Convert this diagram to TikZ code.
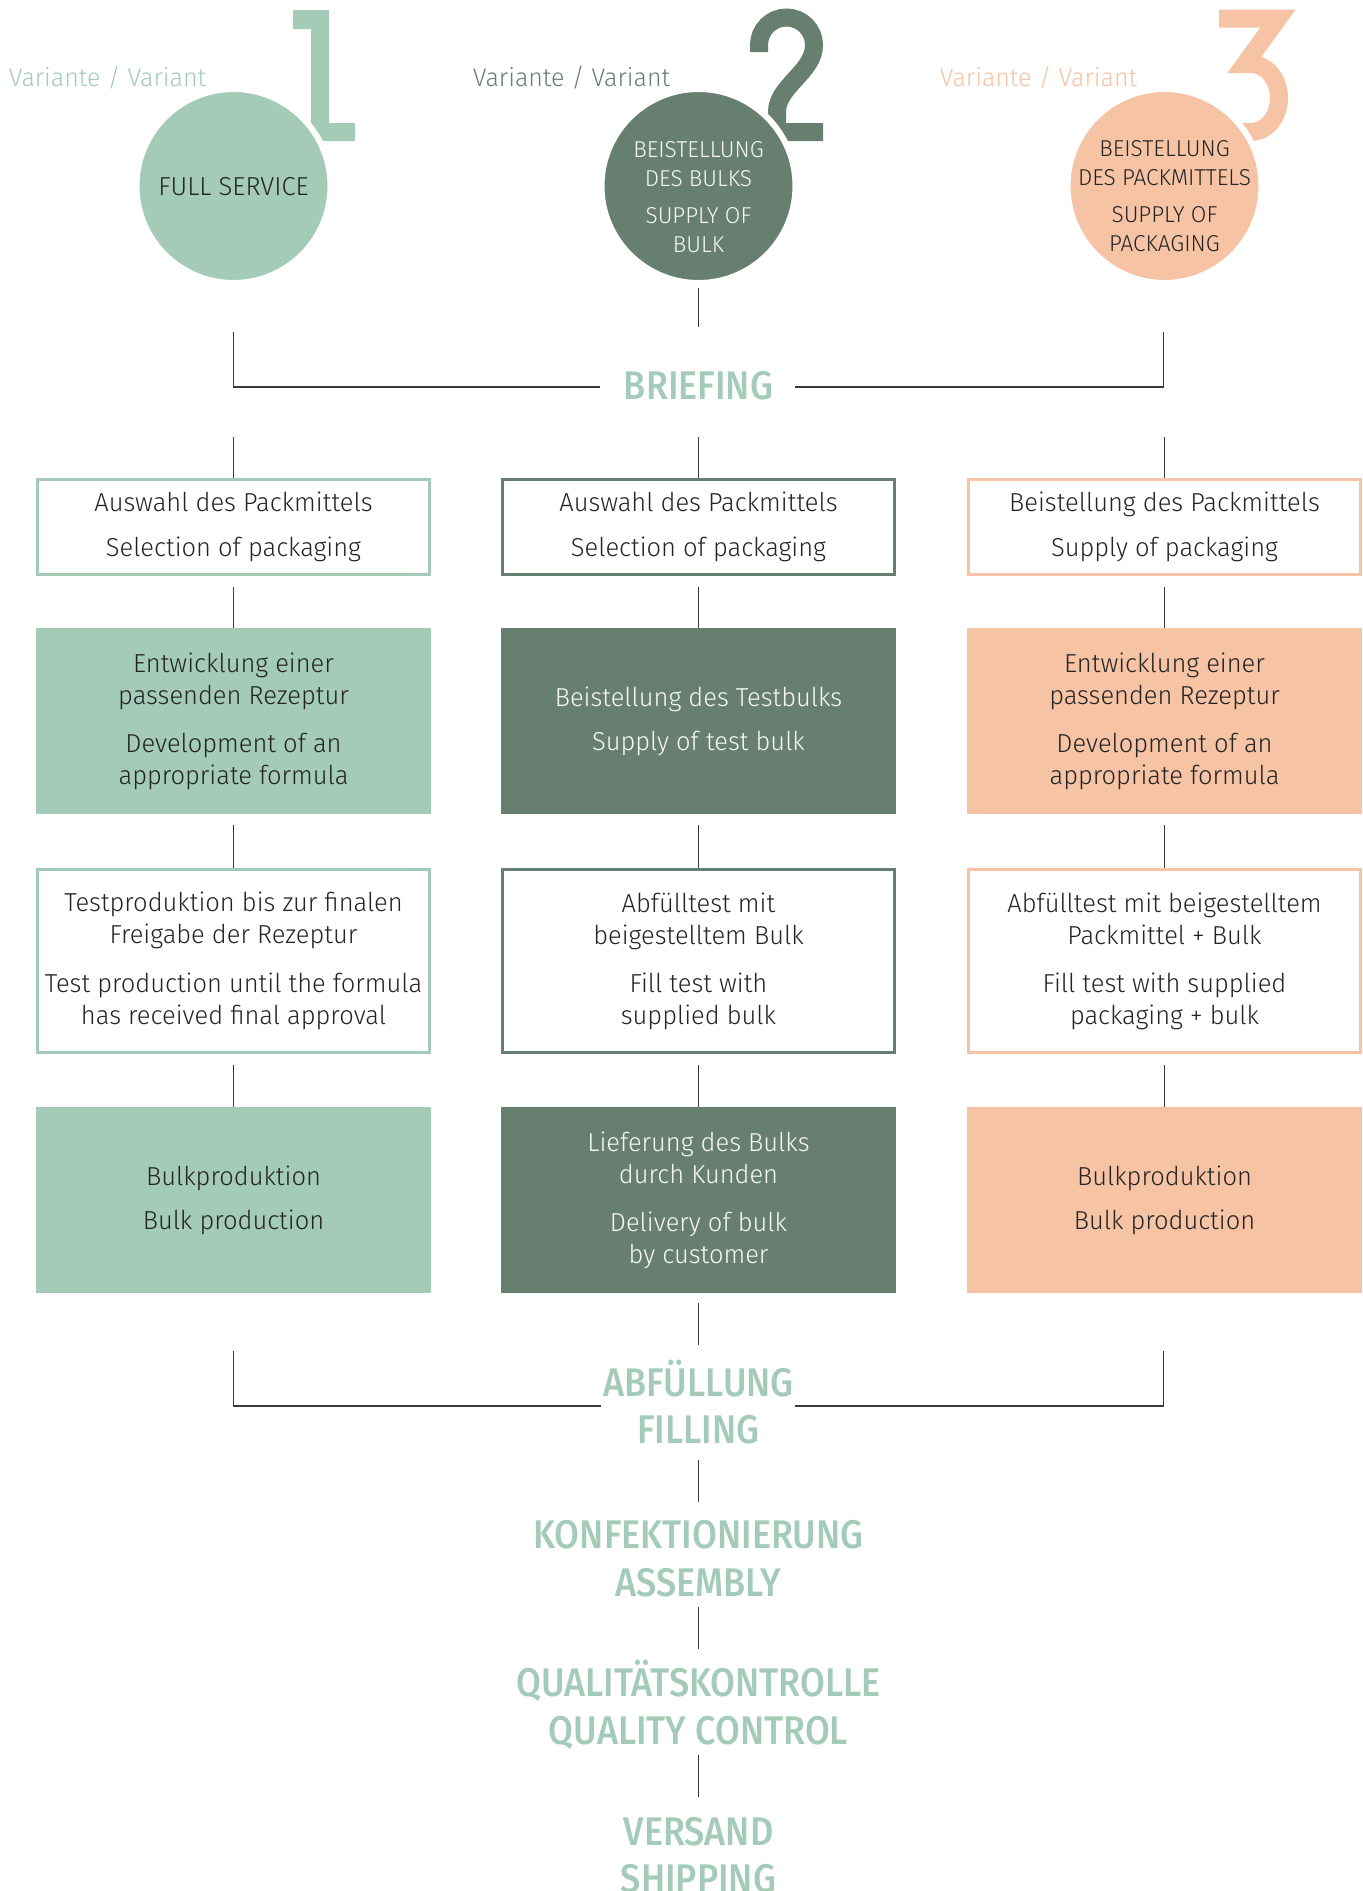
\documentclass[tikz,border=0pt]{standalone}
\usepackage{fontspec}
\setmainfont{Fira Sans Light}[FakeStretch=0.98]
\newfontfamily\fmed{Fira Sans Medium}[FakeStretch=0.9]
\definecolor{mint}{HTML}{A3CBB8}
\definecolor{sage}{HTML}{667F71}
\definecolor{peach}{HTML}{F7C3A5}
\definecolor{ink}{HTML}{242424}
\definecolor{linec}{HTML}{3A3A3A}
\definecolor{paper}{HTML}{F7F7F5}
\begin{document}
\begin{tikzpicture}[x=1pt,y=-1pt,
  conn/.style={draw=linec, line width=1.5pt},
  boxtxt/.style={align=center, font=\fontsize{26}{32}\selectfont, text=ink, inner sep=0pt, outer sep=0pt},
  obox/.style={boxtxt, draw, line width=3pt, minimum width=392pt, outer sep=1.5pt},
  fbox/.style={boxtxt, minimum width=395pt, minimum height=186pt},
  head/.style={font=\fmed\fontsize{40}{48}\selectfont, text=mint, inner sep=0pt, anchor=base},
  varlbl/.style={font=\fontsize{25.5}{32}\selectfont, inner sep=0pt, anchor=base},
  digitstroke/.style={line width=18pt, line cap=butt, line join=miter},
  circ/.style={circle, minimum size=194pt, draw=white, line width=6pt, inner sep=0pt},
  ctext/.style={align=center, font=\fontsize{23}{29}\selectfont, inner sep=0pt}
]
\useasboundingbox (0,0) rectangle (1363,1891);

% big digits (drawn as shapes)
\fill[mint] (293,10) -- (329,10) -- (329,123) -- (355,123) -- (355,141) -- (300,141)
  -- (300,123) -- (311,123) -- (311,29) -- (293,29) -- cycle;
\draw[sage, digitstroke] (759,52) -- (759,45) arc[start angle=180, end angle=360, radius=27.5]
  .. controls (814,72) and (777,86) .. (777,112) -- (777,132) -- (823,132);
\draw[peach, digitstroke] (1219,18.5) -- (1278,18.5) -- (1245,64) -- (1251,64)
  arc[start angle=270, end angle=450, x radius=28, y radius=34] -- (1205,132);

% variant labels
\node[varlbl, text=mint] (v1) at (107.5,86) {Variante / Variant};
\node[varlbl, text=sage] (v2) at (571.5,86) {Variante / Variant};
\node[varlbl, text=peach] (v3) at (1038.5,86) {Variante / Variant};

% circles
\node[circ, fill=mint] (k1) at (233.5,186) {};
\node[circ, fill=sage] (k2) at (698.5,186) {};
\node[circ, fill=peach] (k3) at (1164.5,186) {};
\node[ctext, text=ink, font=\fontsize{26}{32}\selectfont] (kt1) at (233.5,186.5) {FULL SERVICE};
\node[ctext, text=paper] (kt2) at (698.5,197) {BEISTELLUNG\\DES BULKS\\[8pt]SUPPLY OF\\BULK};
\node[ctext, text=ink] (kt3) at (1164.5,196) {BEISTELLUNG\\DES PACKMITTELS\\[8pt]SUPPLY OF\\PACKAGING};

% briefing
\node[head] (brief) at (698.5,399) {BRIEFING};
\coordinate (bt2) at (698.5,327);
\draw[conn] ([yshift=-2pt]k2.south) -- (bt2);
\coordinate (tl) at (233.5,332);
\coordinate (tle) at (600,387);
\coordinate (tr) at (1163.5,332);
\coordinate (tre) at (795,387);
\draw[conn] (tl) |- (tle);
\draw[conn] (tr) |- (tre);
\coordinate (s1) at (233.5,437);
\coordinate (s2) at (698.5,437);
\coordinate (s3) at (1164.5,437);

% row 1
\node[obox, draw=mint, minimum height=95pt] (r1a) at (233.5,527) {Auswahl des Packmittels\\[13pt]Selection of packaging};
\node[obox, draw=sage, minimum height=95pt] (r1b) at (698.5,527) {Auswahl des Packmittels\\[13pt]Selection of packaging};
\node[obox, draw=peach, minimum height=95pt] (r1c) at (1164.5,527) {Beistellung des Packmittels\\[13pt]Supply of packaging};

% row 2
\node[fbox, fill=mint] (r2a) at (233.5,721) {Entwicklung einer\\passenden Rezeptur\\[16pt]Development of an\\appropriate formula};
\node[fbox, fill=sage, text=paper] (r2b) at (698.5,721) {Beistellung des Testbulks\\[12pt]Supply of test bulk};
\node[fbox, fill=peach] (r2c) at (1164.5,721) {Entwicklung einer\\passenden Rezeptur\\[16pt]Development of an\\appropriate formula};

% row 3
\node[obox, draw=mint, minimum height=183pt] (r3a) at (233.5,961) {Testproduktion bis zur finalen\\Freigabe der Rezeptur\\[17pt]Test production until the formula\\has received final approval};
\node[obox, draw=sage, minimum height=183pt] (r3b) at (698.5,961) {Abfülltest mit\\beigestelltem Bulk\\[16pt]Fill test with\\supplied bulk};
\node[obox, draw=peach, minimum height=183pt] (r3c) at (1164.5,961) {Abfülltest mit beigestelltem\\Packmittel + Bulk\\[16pt]Fill test with supplied\\packaging + bulk};

% row 4
\node[fbox, fill=mint] (r4a) at (233.5,1200) {Bulkproduktion\\[12pt]Bulk production};
\node[fbox, fill=sage, text=paper] (r4b) at (698.5,1200) {Lieferung des Bulks\\durch Kunden\\[16pt]Delivery of bulk\\by customer};
\node[fbox, fill=peach] (r4c) at (1164.5,1200) {Bulkproduktion\\[12pt]Bulk production};

% vertical connectors
\draw[conn] (s1) -- (r1a.north);
\draw[conn] (s2) -- (r1b.north);
\draw[conn] (s3) -- (r1c.north);
\foreach \c in {a,b,c}{
  \draw[conn] ([yshift=-11pt]r1\c.south) -- (r2\c.north);
  \draw[conn] ([yshift=-11pt]r2\c.south) -- (r3\c.north);
  \draw[conn] ([yshift=-11pt]r3\c.south) -- (r4\c.north);
}

% bottom part
\node[head] (abf) at (698.5,1396) {ABFÜLLUNG};
\node[head] (fil) at (698.5,1443) {FILLING};
\node[head] (konf) at (698.5,1548) {KONFEKTIONIERUNG};
\node[head] (asm) at (698.5,1596) {ASSEMBLY};
\node[head] (qk) at (698.5,1696) {QUALITÄTSKONTROLLE};
\node[head] (qc) at (698.5,1744) {QUALITY CONTROL};
\node[head] (vs) at (698.5,1845) {VERSAND};
\node[head] (sh) at (698.5,1892) {SHIPPING};

\coordinate (bb2) at (698.5,1345);
\draw[conn] ([yshift=-10pt]r4b.south) -- (bb2);
\coordinate (bl) at (233.5,1351);
\coordinate (ble) at (601,1406);
\coordinate (br) at (1163.5,1351);
\coordinate (bre) at (795,1406);
\draw[conn] (bl) |- (ble);
\draw[conn] (br) |- (bre);
\draw[conn] ([yshift=-17pt]fil.base) -- ([yshift=46pt]konf.base);
\draw[conn] ([yshift=-11pt]asm.base) -- ([yshift=47pt]qk.base);
\draw[conn] ([yshift=-11pt]qc.base) -- ([yshift=48pt]vs.base);
\end{tikzpicture}
\end{document}
